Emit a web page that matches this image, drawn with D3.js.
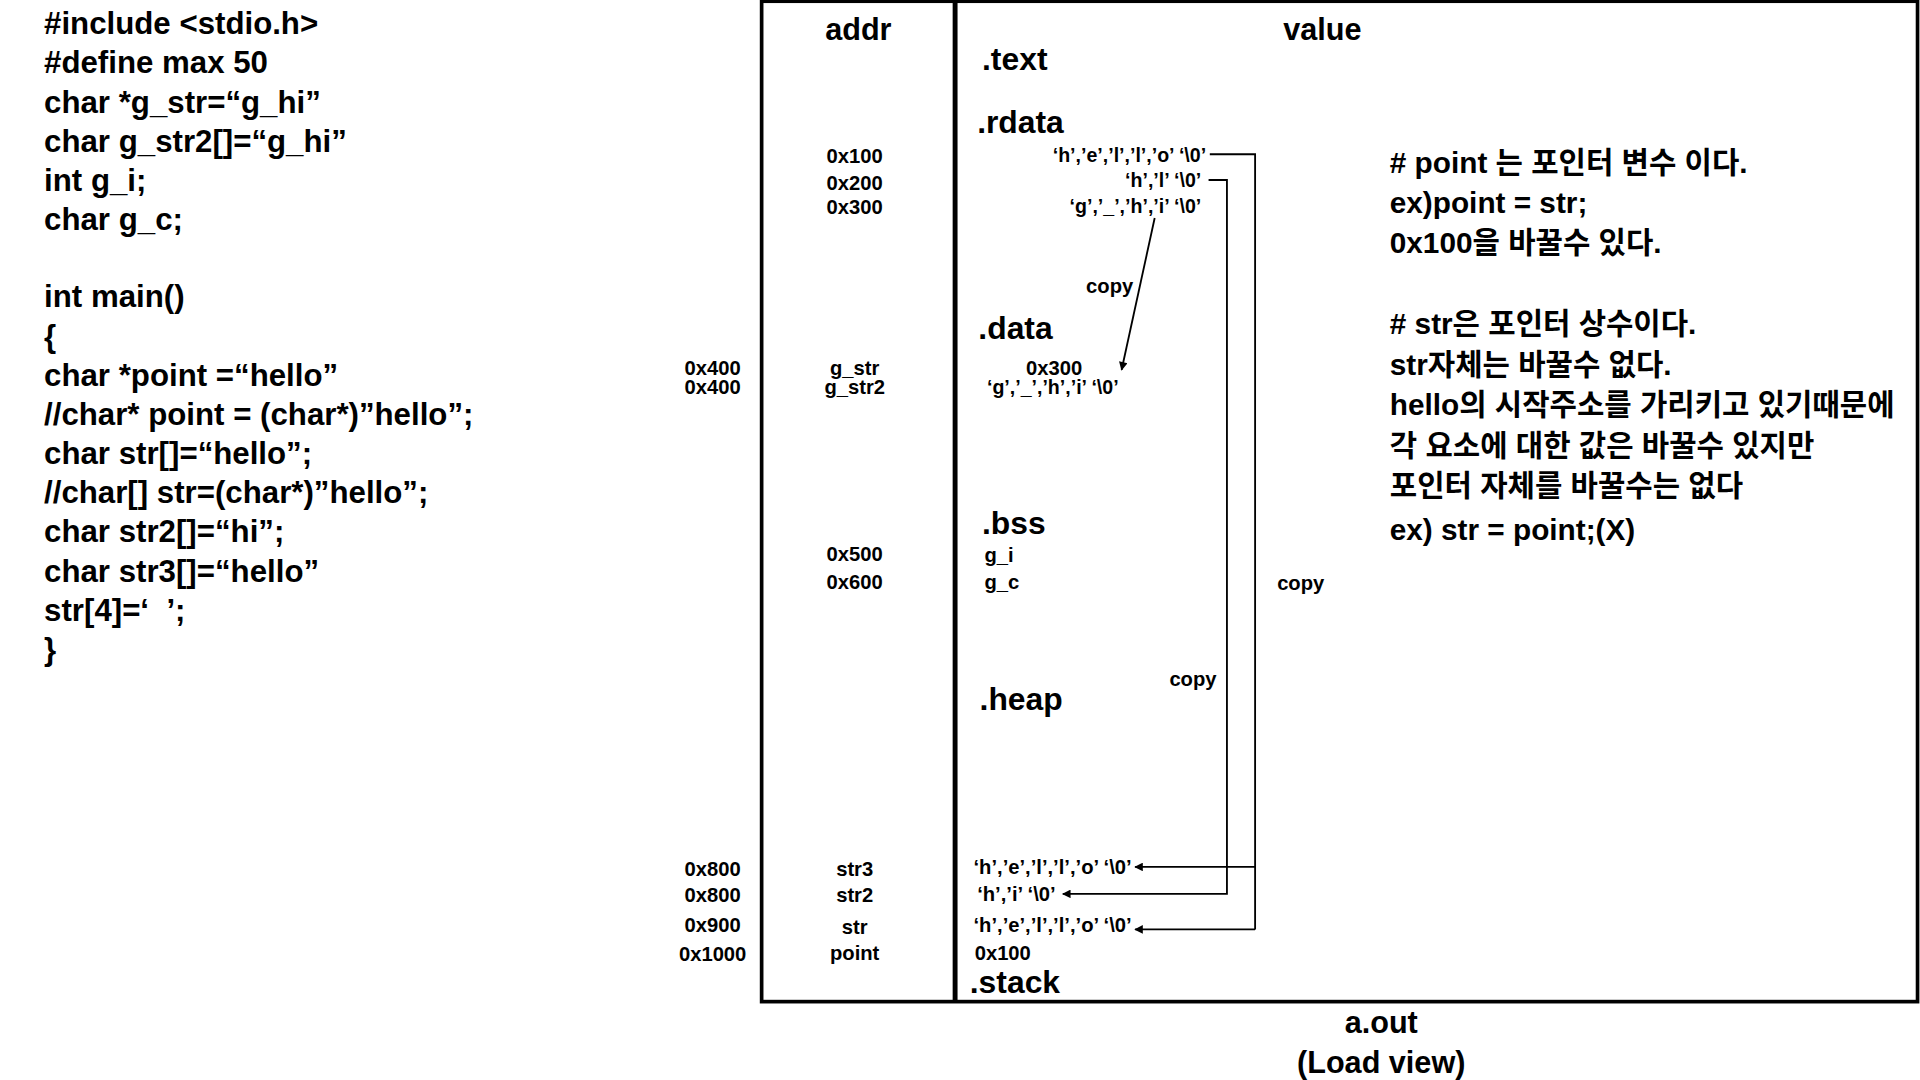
<!DOCTYPE html>
<html><head><meta charset="utf-8">
<script src="https://cdn.jsdelivr.net/npm/d3@7"></script>
<style>body{margin:0;background:#fff}svg text{font-family:"Liberation Sans","Noto Sans CJK KR",sans-serif;font-weight:bold;fill:#000;white-space:pre}</style>
</head><body><svg id="c" width="1920" height="1080" viewBox="0 0 1568 882"></svg>
<script>
const codeLines = ['#include <stdio.h>','#define max 50','char *g_str=“g_hi”','char g_str2[]=“g_hi”','int g_i;','char g_c;','','int main()','{','char *point =“hello”','//char* point = (char*)”hello”;','char str[]=“hello”;','//char[] str=(char*)”hello”;','char str2[]=“hi”;','char str3[]=“hello”','str[4]=‘  ’;','}'];
const sections = ['.text','.rdata','.data','.bss','.heap','.stack'];
const addrLabels = ['0x100','0x200','0x300','g_str','g_str2','0x500','0x600','str3','str2','str','point'];
const leftAddrs = ['0x400','0x400','0x800','0x800','0x900','0x1000'];
const rdataVals = ["‘h’,’e’,’l’,’l’,’o’ ‘\\0’","‘h’,’l’ ‘\\0’","‘g’,’_’,’h’,’i’ ‘\\0’"];
const stackVals = ["‘h’,’e’,’l’,’l’,’o’ ‘\\0’","‘h’,’i’ ‘\\0’","‘h’,’e’,’l’,’l’,’o’ ‘\\0’","0x100"];
const notes = ['# point 는 포인터 변수 이다.','ex)point = str;','0x100을 바꿀수 있다.','','# str은 포인터 상수이다.','str자체는 바꿀수 없다.','hello의 시작주소를 가리키고 있기때문에','각 요소에 대한 값은 바꿀수 있지만','포인터 자체를 바꿀수는 없다','ex) str = point;(X)'];

const svg = d3.select('#c');
const T = (x,y,s,fs,anchor)=>svg.append('text').attr('x',x).attr('y',y).attr('font-size',fs).attr('text-anchor',anchor||'start').attr('xml:space','preserve').text(s);
const yCode = d3.scaleLinear().domain([0,1]).range([28,60]);
const yCode2 = i => i<7 ? yCode(i) : yCode(i)-1;
codeLines.forEach((s,i)=>{ if(s) T(36,yCode2(i),s,25.5); });

svg.append('rect').attr('x',622).attr('y',1).attr('width',944).attr('height',817).attr('fill','none').attr('stroke','#000').attr('stroke-width',3);
svg.append('line').attr('x1',780).attr('x2',780).attr('y1',0).attr('y2',819).attr('stroke','#000').attr('stroke-width',4);
T(701,33,'addr',25,'middle'); T(1080,33,'value',25,'middle');

const secPos=[[802,57],[798,109],[799,277],[802,436],[800,580],[792,811]];
sections.forEach((s,i)=>T(secPos[i][0],secPos[i][1],s,26));

const addrY=[133,155,175,306,322,458,481,715,737,763,784];
addrLabels.forEach((s,i)=>T(698,addrY[i],s,16.5,'middle'));
const leftY=[306,322,715,737,761,785];
leftAddrs.forEach((s,i)=>T(582,leftY[i],s,16.5,'middle'));

const rdY=[132,153,174], rdEnd=[985,981,981];
rdataVals.forEach((s,i)=>T(rdEnd[i],rdY[i],s,16,'end'));
T(887,239,'copy',16.5); T(838,306,'0x300',16.5); T(806,322,"‘g’,’_’,’h’,’i’ ‘\\0’",16);
T(804,459,'g_i',16.5); T(804,481,'g_c',16.5);
T(1043,482,'copy',16.5); T(955,560,'copy',16.5);
const stX=[795,798,795,796], stY=[714,736,761,784];
stackVals.forEach((s,i)=>T(stX[i],stY[i],s,16.5));

const defs=svg.append('defs');
defs.append('marker').attr('id','ah').attr('viewBox','0 0 10 10').attr('refX',9).attr('refY',5).attr('markerWidth',9).attr('markerHeight',7).attr('orient','auto').attr('markerUnits','userSpaceOnUse')
 .append('path').attr('d','M0,0L10,5L0,10z').attr('fill','#000');
const line=d3.line();
const P=(pts,m)=>svg.append('path').attr('d',line(pts)).attr('fill','none').attr('stroke','#000').attr('stroke-width',1.5).attr('marker-end',m?'url(#ah)':null);
P([[988,126],[1025,126],[1025,759]]);
P([[1025,708],[927,708]],true);
P([[1025,759],[927,759]],true);
P([[987,147],[1002,147],[1002,730],[868,730]],true);
P([[943,178],[916,302]],true);

const yN=d3.scaleLinear().domain([0,1]).range([141,174]);
notes.forEach((s,i)=>{ if(s) T(1135,yN(i)+(i>=9?3:0),s,24.3); });
T(1128,844,'a.out',25,'middle'); T(1128,876,'(Load view)',25,'middle');
</script></body></html>
